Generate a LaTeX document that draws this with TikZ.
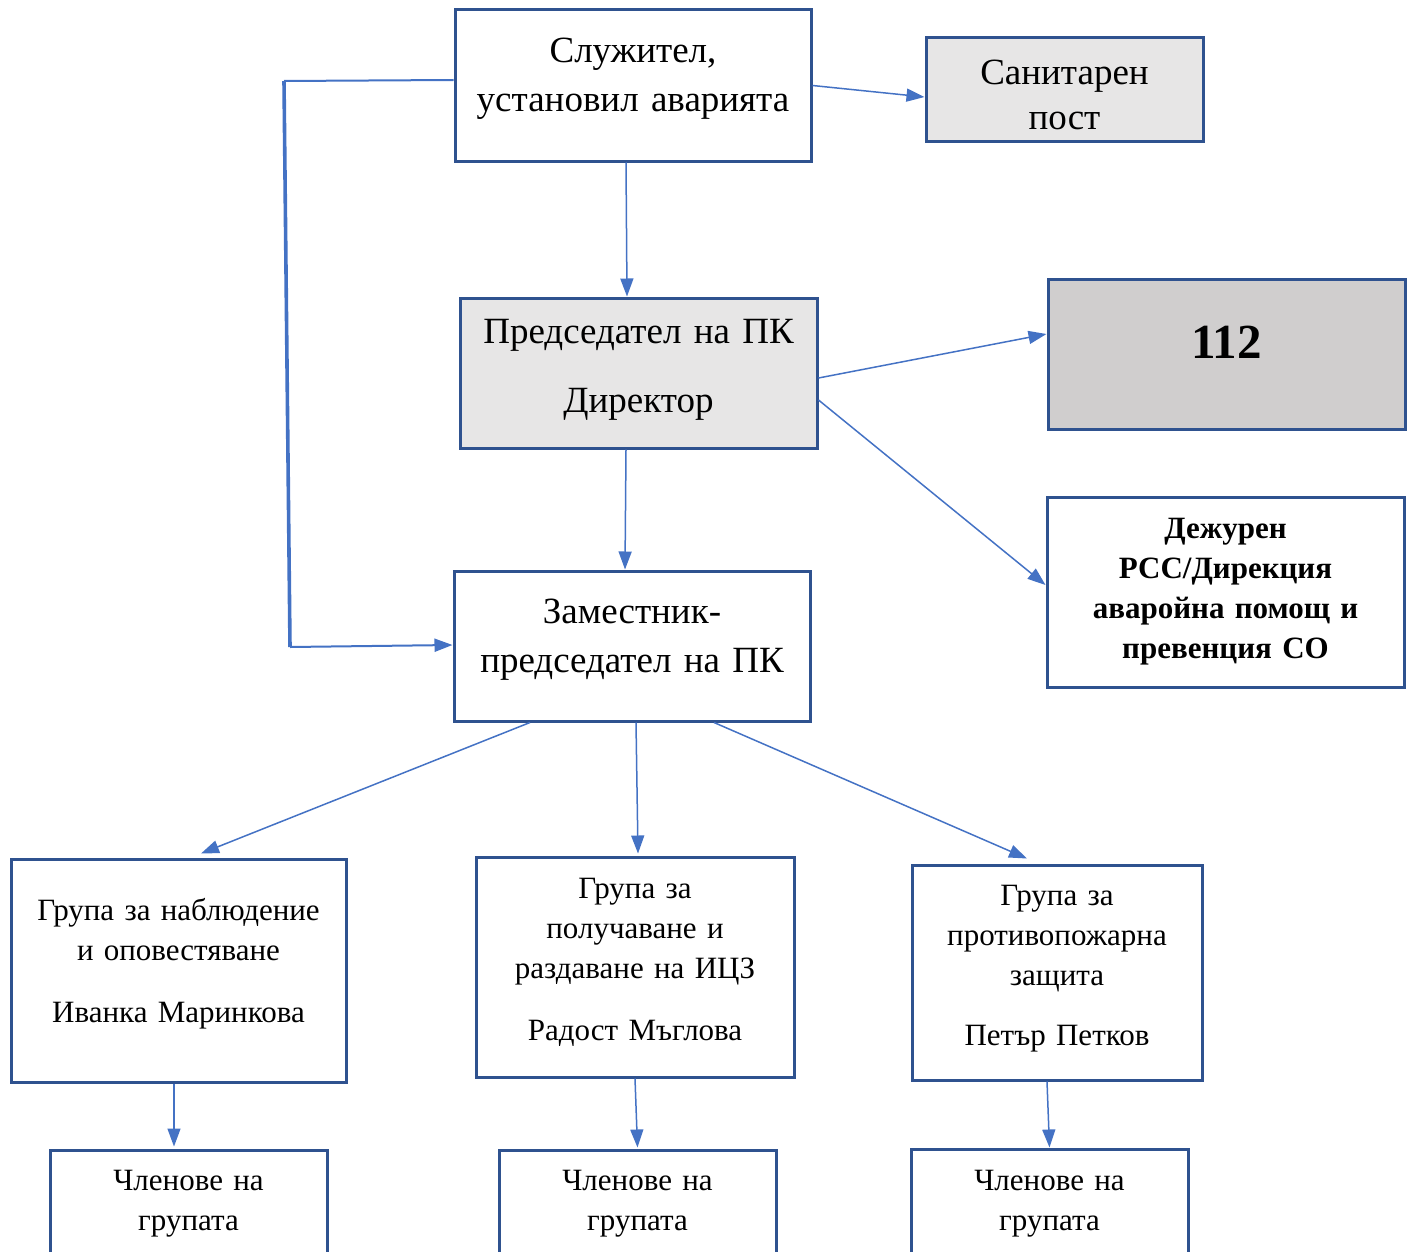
\documentclass[tikz,border=0pt]{standalone}
\usepackage{fontspec}
\setmainfont{Liberation Serif}
\usepackage{tikz}
\usetikzlibrary{arrows.meta,calc}
\definecolor{boxblue}{HTML}{2F528F}
\definecolor{linkblue}{HTML}{4472C4}
\definecolor{softgray}{HTML}{E7E6E6}
\definecolor{midgray}{HTML}{D0CECE}

\begin{document}
\begin{tikzpicture}[x=0.5pt, y=-0.5pt, >={Triangle[length=9pt,width=6.5pt]},
    box/.style={draw=boxblue, line width=1.5pt, inner sep=0pt, align=center, anchor=base},
    big/.style={font=\fontsize{18.5pt}{27.5pt}\selectfont},
    small/.style={font=\fontsize{15.5pt}{20pt}\selectfont},
    link/.style={draw=linkblue, line width=0.75pt}]
        \useasboundingbox (0,0) rectangle (1413,1252);
        % top row
        \node[box, text width=178pt, text height=26.5pt, text depth=49pt,
            font=\fontsize{18.5pt}{24.5pt}\selectfont] (serv) at (633,63) {Служител,\\установил аварията};
        \node[box, fill=softgray, text width=138.5pt, text height=23.5pt, text depth=28.5pt,
            font=\fontsize{18.5pt}{22.5pt}\selectfont] (post) at (1064.5,85) {Санитарен\\пост};
        % middle
        \node[box, big, fill=softgray, text width=178.5pt, text height=22.5pt, text depth=52.5pt] (chair) at (638.5,343) {Председател на ПК\\[7pt]Директор};
        \node[box, fill=midgray, text width=178.5pt, text height=39.5pt, text depth=35.5pt,
            font=\fontsize{24.5pt}{29pt}\selectfont\bfseries] (emerg) at (1226.5,358) {112};
        \node[box, text width=178.5pt, text height=20.5pt, text depth=74.5pt,
            font=\fontsize{15.5pt}{20pt}\selectfont\bfseries] (duty) at (1225.5,538) {Дежурен\\РСС/Дирекция\\аваройна помощ и\\превенция СО};
        \node[box, text width=178pt, text height=26pt, text depth=49pt,
            font=\fontsize{18.5pt}{24.5pt}\selectfont] (deputy) at (632,623) {Заместник-\\председател на ПК};
        % groups
        \node[box, small, text width=167.5pt, text height=30.5pt, text depth=81pt] (obs) at (178.5,920) {Група за наблюдение\\и оповестяване\\[11pt]Иванка Маринкова};
        \node[box, small, text width=159pt, text height=20.5pt, text depth=89.5pt] (supply) at (635,898) {Група за\\получаване и\\раздаване на ИЦЗ\\[11pt]Радост Мъглова};
        \node[box, small, text width=145pt, text height=20pt, text depth=87.5pt] (fire) at (1057,905) {Група за\\противопожарна\\защита\\[10pt]Петър Петков};
        % members
        \node[box, small, text width=138.5pt, text height=20pt, text depth=40pt] (memobs) at (188.5,1190) {Членове на\\групата};
        \node[box, small, text width=138.5pt, text height=20pt, text depth=40pt] (memsupply) at (637.5,1190) {Членове на\\групата};
        \node[box, small, text width=138.5pt, text height=20.5pt, text depth=40pt] (memfire) at (1049.5,1190) {Членове на\\групата};

        \coordinate (ltop) at (284,81);
        \coordinate (lbot) at (290,647);

        \draw[link, ->] (serv.east) -- ($(post.west)+(0,7)$);
        \draw[link, ->] ($(serv.south)+(-7,0)$) -- ($(chair.north)+(-11.5,0)$);
        \draw[link, line width=1pt] ($(serv.west)+(0,-5.5)$) -- (ltop);
        \draw[link, line width=1.8pt] (ltop) -- (lbot);
        \draw[link, line width=1pt, ->] (lbot) -- ($(deputy.west)+(0,-1)$);
        \draw[link, ->] ($(chair.east)+(0,5)$) -- ($(emerg.west)+(0,-20)$);
        \draw[link, ->] ($(chair.east)+(0,27)$) -- ($(duty.west)+(0,-7)$);
        \draw[link, ->] ($(chair.south)+(-12.5,0)$) -- ($(deputy.north)+(-7,0)$);
        \draw[link, ->] ($(deputy.south)+(-102,0)$) -- ($(obs.north)+(22.5,-4)$);
        \draw[link, ->] ($(deputy.south)+(4,0)$) -- ($(supply.north)+(3,-2)$);
        \draw[link, ->] ($(deputy.south)+(82,0)$) -- ($(fire.north)+(-30,-5)$);
        \draw[link, ->] ($(obs.south)+(-4.5,0)$) -- ($(memobs.north)+(-14.5,-2)$);
        \draw[link, ->] (supply.south) -- ($(memsupply.north)+(0,-1)$);
        \draw[link, ->] ($(fire.south)+(-10,0)$) -- ($(memfire.north)+(0,0)$);
    \end{tikzpicture}
\end{document}
